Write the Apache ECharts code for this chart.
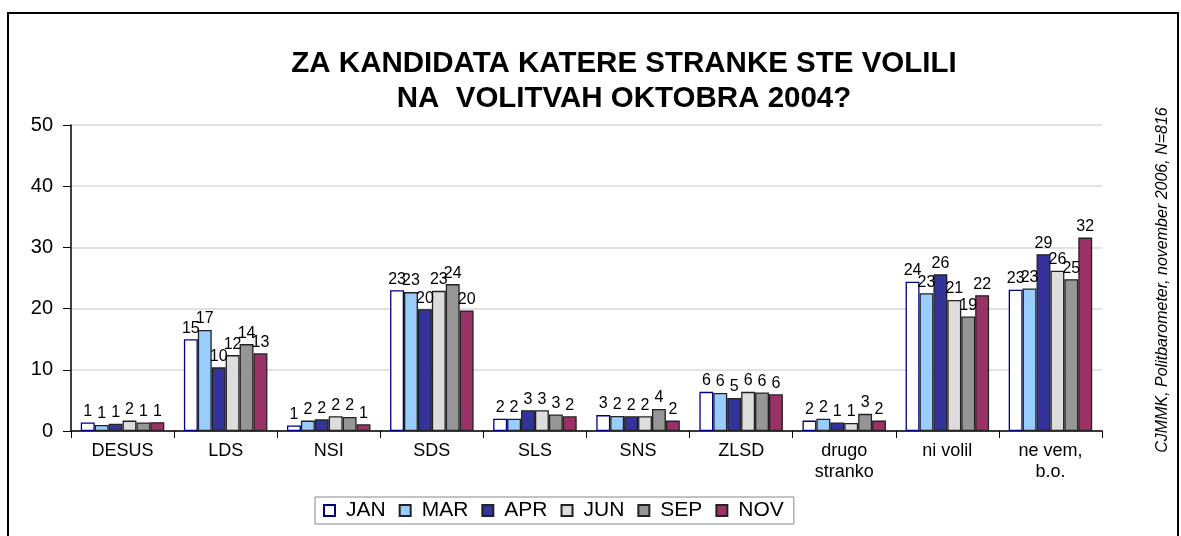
<!DOCTYPE html>
<html>
<head>
<meta charset="utf-8">
<script src="https://cdn.jsdelivr.net/npm/echarts@6/dist/echarts.min.js"></script>
<style>
  html, body { margin: 0; padding: 0; background: #fff; }
  #chart { width: 1181px; height: 536px; }
</style>
</head>
<body>
<div id="chart"></div>
<script>
// stranke (x kategorije)
var categories = ["DESUS", "LDS", "NSI", "SDS", "SLS", "SNS", "ZLSD", "drugo\nstranko", "ni volil", "ne vem,\nb.o."];
var months = ["JAN", "MAR", "APR", "JUN", "SEP", "NOV"];

// odstotki po mesecih
var jan = [1.4, 15.0, 0.9, 23.0, 2.0, 2.6, 6.4, 1.7, 24.4, 23.1];
var mar = [1.0, 16.5, 1.7, 22.7, 2.0, 2.45, 6.2, 2.0, 22.5, 23.3];
var apr = [1.2, 10.4, 1.9, 19.9, 3.4, 2.4, 5.4, 1.4, 25.6, 28.9];
var jun = [1.7, 12.4, 2.4, 22.9, 3.4, 2.4, 6.4, 1.3, 21.4, 26.2];
var sep = [1.4, 14.2, 2.3, 24.0, 2.7, 3.6, 6.3, 2.8, 18.7, 24.8];
var nov = [1.45, 12.7, 1.1, 19.7, 2.4, 1.7, 6.0, 1.7, 22.2, 31.6];

var yTicks = [0, 10, 20, 30, 40, 50];

var fills = ["#ffffff", "#99ccff", "#333399", "#dddddd", "#969696", "#993366"];
var borders = ["#000080", "#222222", "#222222", "#222222", "#222222", "#222222"];

var myChart = echarts.init(document.getElementById("chart"));

var seriesData = [jan, mar, apr, jun, sep, nov];
var series = seriesData.map(function (d, i) {
  return {
    name: months[i],
    type: "bar",
    data: d,
    barGap: "0%",
    barCategoryGap: "19%",
    itemStyle: {
      color: fills[i],
      borderColor: borders[i],
      borderWidth: 1.3
    },
    label: {
      show: true,
      position: "top",
      distance: 3,
      color: "#000",
      fontFamily: "Liberation Sans, Arial",
      fontSize: 16,
      formatter: function (p) {
        return Math.round(p.value);
      }
    }
  };
});

myChart.setOption({
  animation: false,
  textStyle: { fontFamily: "Liberation Sans, Arial" },
  title: {
    text: "ZA KANDIDATA KATERE STRANKE STE VOLILI\nNA  VOLITVAH OKTOBRA 2004?",
    left: 619,
    textAlign: "center",
    top: 41,
    textStyle: {
      fontSize: 29.5,
      fontWeight: "bold",
      color: "#000",
      lineHeight: 35,
      fontFamily: "Liberation Sans, Arial"
    }
  },
  legend: {
    data: months,
    left: 315,
    top: 497,
    itemWidth: 11,
    itemHeight: 11,
    itemGap: 13,
    padding: [3, 10, 3, 8],
    borderColor: "#888",
    borderWidth: 1,
    textStyle: { fontSize: 21, color: "#000", padding: [0, 0, 0, 6] },
    icon: "rect"
  },
  grid: {
    left: 71,
    right: 79,
    top: 125,
    bottom: 105,
    containLabel: false
  },
  xAxis: {
    type: "category",
    data: categories,
    axisLine: { show: true, lineStyle: { color: "#000", width: 1.5 } },
    axisTick: { show: true, length: 7, lineStyle: { color: "#000" } },
    axisLabel: {
      color: "#000",
      fontSize: 18,
      lineHeight: 21,
      margin: 10
    }
  },
  yAxis: {
    type: "value",
    min: yTicks[0],
    max: yTicks[yTicks.length - 1],
    interval: 10,
    axisLine: { show: true, lineStyle: { color: "#000", width: 1.5 } },
    axisTick: { show: true, length: 8, lineStyle: { color: "#000" } },
    axisLabel: { color: "#000", fontSize: 20, margin: 18 },
    splitLine: { show: true, lineStyle: { color: "#d9d9d9", width: 1.5 } }
  },
  graphic: [
    {
      type: "rect",
      shape: { x: 8, y: 13, width: 1170, height: 540 },
      style: { fill: "none", stroke: "#000", lineWidth: 2 },
      silent: true
    },
    {
      type: "text",
      x: 1163,
      y: 280,
      rotation: Math.PI / 2,
      style: {
        text: "CJMMK, Politbarometer, november 2006, N=816",
        fontSize: 16,
        fontStyle: "italic",
        fontFamily: "Liberation Sans, Arial",
        fill: "#000",
        align: "center",
        verticalAlign: "middle"
      }
    }
  ],
  series: series
});

window.addEventListener("resize", function () {
  myChart.resize();
});
</script>
</body>
</html>
